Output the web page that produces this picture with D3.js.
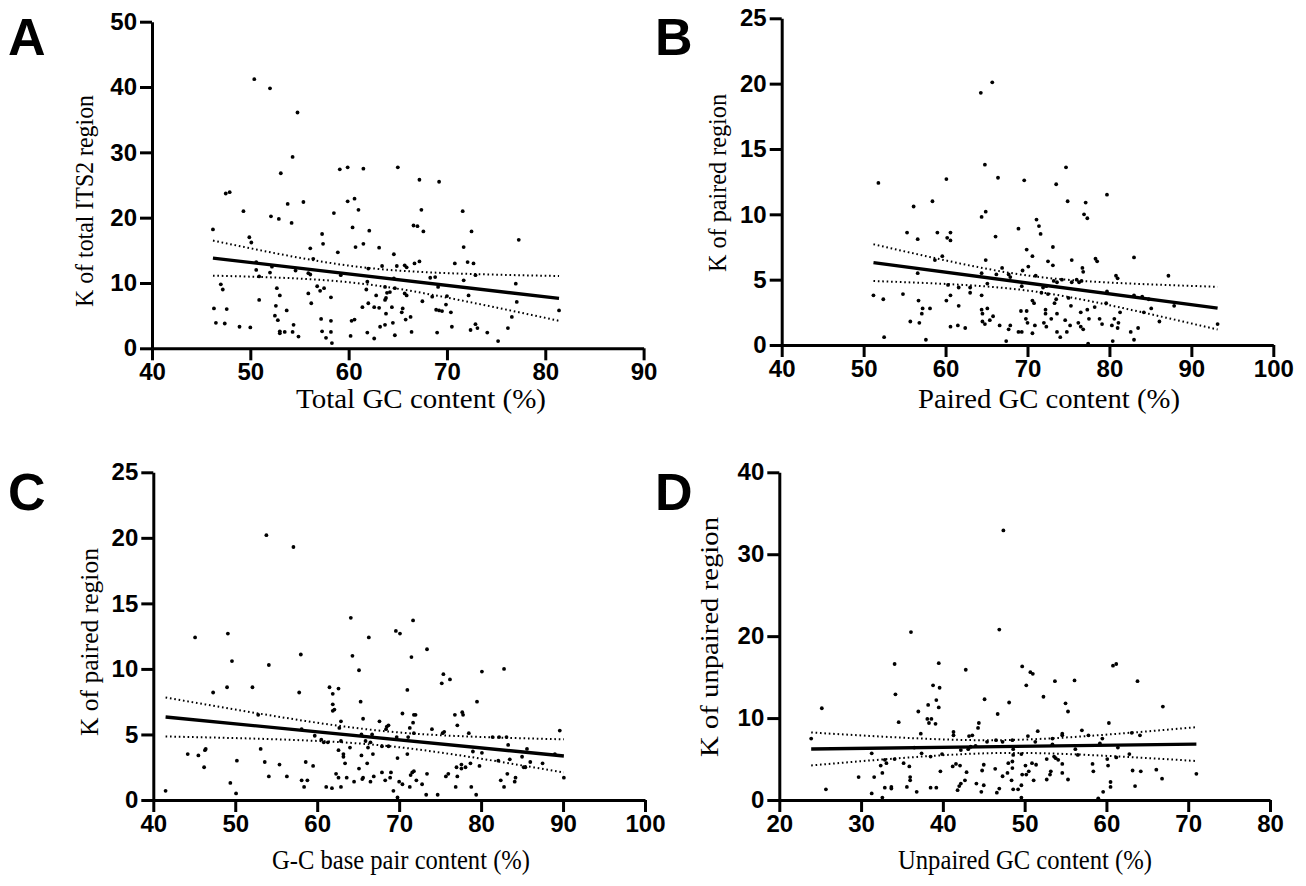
<!DOCTYPE html>
<meta charset="utf-8">
<style>
body { margin: 0; background: #fff; }
.axis path, .axis line { stroke: #000; stroke-width: 3; }
.axis text { font: bold 24px "Liberation Sans", Arial, sans-serif; fill: #000; }
.title { font-family: "Liberation Serif", "Times New Roman", serif; font-size: 27px; fill: #000; }
.letter { font: bold 52px "Liberation Sans", Arial, sans-serif; fill: #000; }
.fit { fill: none; stroke: #000; stroke-width: 3.4; }
.ci { fill: none; stroke: #000; stroke-width: 2; stroke-dasharray: 1.6 2.8; }
</style>
<svg width="1306" height="886"></svg>
<script src="https://d3js.org/d3.v7.min.js"></script>
<script>

// A: total GC content (%) vs K of total ITS2 region
var pointsA = [
  [50.4,41.2],[52.0,39.8],[54.8,36.1],[54.3,29.3],[53.1,26.8],[59.1,27.4],[59.9,27.7],[61.5,27.5],[65.0,27.7],
  [47.5,23.7],[47.9,23.9],[46.2,18.2],[49.3,21.0],[52.1,20.2],[52.9,19.8],[53.8,22.1],[54.2,19.2],[55.4,22.4],
  [58.5,20.7],[59.9,22.5],[60.6,22.9],[61.0,21.2],[60.4,18.5],[62.1,18.0],[49.9,17.0],[50.1,16.2],[57.3,17.5],
  [57.4,16.0],[56.1,15.3],[58.9,14.7],[60.7,15.5],[61.5,16.0],[63.1,15.4],[64.6,14.4],[56.4,13.7],[50.6,13.2],
  [50.6,12.0],[50.9,11.0],[52.0,11.6],[52.2,12.5],[54.6,11.9],[55.9,11.5],[56.1,11.3],[59.2,11.2],[62.0,12.2],
  [63.4,12.6],[64.9,12.6],[61.9,10.2],[47.0,9.8],[47.2,9.0],[52.7,9.2],[53.0,8.1],[50.9,7.4],[55.9,8.4],
  [56.8,9.5],[57.1,8.8],[57.5,9.2],[58.2,7.8],[61.8,9.0],[62.8,8.1],[63.7,9.4],[63.9,8.5],[64.2,8.6],
  [63.8,7.7],[63.7,7.4],[64.6,10.7],[56.2,6.9],[61.4,6.3],[62.0,6.9],[62.6,6.3],[63.1,6.2],[64.4,6.3],
  [46.3,6.1],[47.6,6.0],[52.6,6.5],[53.7,5.8],[52.5,5.0],[52.8,4.3],[46.5,3.9],[47.4,3.8],[48.9,3.3],
  [50.0,3.2],[54.4,3.6],[57.2,4.5],[58.2,4.2],[60.3,4.2],[60.6,4.4],[63.8,5.3],[64.5,3.9],[63.2,3.3],
  [63.7,3.6],[53.0,2.6],[53.0,2.3],[53.5,2.5],[54.3,2.5],[54.9,1.8],[57.3,2.6],[58.2,2.5],[57.7,1.6],
  [58.3,0.8],[60.2,1.9],[61.9,2.4],[62.6,1.5],[64.7,2.0],
  [67.2,25.8],[69.2,25.5],[67.4,21.2],[71.6,21.0],[66.6,18.8],[67.0,18.7],[67.6,17.9],[72.5,17.9],[77.3,16.6],
  [71.7,15.5],[67.2,13.3],[66.7,13.0],[65.7,12.7],[65.9,12.4],[70.8,13.0],[72.1,13.2],[72.7,13.0],[72.9,11.2],
  [68.3,10.8],[68.8,10.9],[64.7,9.2],[69.1,9.4],[71.7,10.4],[77.0,9.9],[65.7,8.4],[65.9,8.1],[68.5,7.9],
  [70.0,8.0],[72.2,8.1],[67.5,7.2],[77.1,7.1],[69.9,6.7],[65.5,6.1],[65.4,5.5],[68.9,5.9],[69.2,5.8],
  [69.5,5.7],[70.4,5.5],[81.4,5.8],[76.6,4.8],[66.3,4.8],[65.8,4.4],[72.9,3.7],[73.1,3.1],[70.5,3.3],
  [72.4,2.8],[76.2,3.1],[66.4,2.5],[69.0,2.4],[74.1,2.4],[75.2,1.1]
];

// B: paired GC content (%) vs K of paired region
var pointsB = [
  [65.7,20.1],[64.3,19.3],[64.8,13.8],[66.4,12.8],[69.6,12.6],[51.8,12.4],[60.1,12.7],[58.4,11.0],[56.1,10.6],
  [64.4,9.8],[64.9,10.2],[55.3,8.6],[56.6,8.1],[59.0,8.6],[60.2,8.2],[60.6,8.6],[60.6,8.0],[66.1,8.3],
  [68.9,8.9],[69.9,7.3],[58.7,6.5],[59.6,6.8],[64.9,6.5],[56.6,5.5],[64.4,5.5],[66.2,5.4],[66.9,5.9],
  [67.9,5.2],[67.7,5.4],[69.4,5.7],[70.1,6.0],[60.3,4.6],[61.6,4.4],[63.0,4.4],[63.0,4.0],[65.1,4.7],
  [69.3,4.5],[51.2,3.8],[52.4,3.5],[54.8,3.9],[56.7,3.4],[60.1,3.4],[60.6,3.8],[64.4,3.8],[61.6,3.0],
  [57.2,2.8],[58.1,2.8],[57.1,2.4],[64.4,2.7],[65.1,2.8],[64.5,2.4],[65.8,2.2],[65.4,1.9],[69.2,2.6],
  [69.9,2.6],[69.8,2.0],[70.0,1.7],[55.7,1.8],[56.8,1.7],[64.5,1.8],[64.8,1.6],[66.6,1.5],[67.7,1.2],
  [67.9,1.5],[68.9,1.0],[69.3,1.0],[60.6,1.4],[61.5,1.5],[62.4,1.3],[52.5,0.6],[57.6,0.4],[67.4,0.3],
  [74.7,13.6],[73.5,12.3],[79.7,11.5],[74.9,11.0],[77.1,10.9],[76.9,10.0],[77.3,9.7],[71.1,9.6],[71.4,9.1],
  [71.6,8.5],[73.1,7.5],[70.6,6.8],[72.5,6.4],[73.1,6.1],[75.4,6.5],[78.3,6.6],[78.5,6.4],[83.0,6.7],
  [76.7,5.9],[76.8,5.6],[71.0,5.3],[80.8,5.3],[81.0,5.1],[87.2,5.3],[73.2,4.9],[73.6,4.8],[74.2,5.0],
  [75.4,4.8],[76.0,5.0],[76.3,4.8],[76.6,4.9],[71.9,4.4],[72.3,4.5],[79.7,4.1],[71.7,4.0],[72.5,3.9],
  [83.0,3.8],[84.0,3.7],[84.8,3.5],[75.0,3.6],[73.5,3.5],[73.3,3.2],[70.6,3.4],[70.8,3.2],[75.3,3.0],
  [79.6,3.2],[87.9,3.0],[77.3,2.7],[78.2,2.9],[81.3,2.5],[84.2,2.5],[85.1,2.8],[72.2,2.7],[72.2,2.4],
  [73.6,2.4],[76.5,2.5],[70.9,1.5],[72.0,1.7],[72.3,1.4],[72.9,2.0],[74.6,1.9],[75.2,1.5],[76.2,1.7],
  [76.5,1.4],[76.8,1.2],[77.5,2.0],[78.8,2.0],[79.1,1.6],[80.3,1.5],[80.6,2.0],[81.1,1.7],[81.0,1.3],
  [83.5,1.3],[86.1,1.8],[93.2,1.6],[70.6,0.9],[73.6,1.0],[74.0,0.6],[74.8,1.0],[82.6,1.0],[83.0,0.4],
  [77.4,0.1],[80.4,0.3]
];

// C: G-C base pair content (%) vs K of paired region
var pointsC = [
  [53.8,20.2],[57.1,19.3],[64.1,13.9],[49.1,12.7],[45.1,12.4],[66.3,12.4],[69.6,12.9],[70.1,12.7],[58.0,11.1],
  [64.3,11.0],[49.6,10.6],[54.1,10.3],[65.1,9.9],[47.3,8.2],[49.0,8.6],[52.1,8.6],[57.8,8.2],[61.5,8.6],
  [62.6,8.5],[61.9,8.1],[61.9,7.3],[61.9,6.8],[62.1,6.9],[65.3,7.5],[52.8,6.5],[65.6,6.2],[58.1,5.4],
  [62.9,6.0],[62.7,5.5],[67.6,6.0],[68.5,5.6],[68.7,5.7],[68.4,5.4],[59.7,4.9],[60.5,4.6],[60.8,4.4],
  [61.3,4.4],[62.9,4.5],[65.4,5.0],[66.7,5.0],[65.9,4.5],[66.5,4.4],[66.2,4.0],[64.0,4.0],[67.9,4.1],
  [68.7,4.1],[69.7,4.8],[44.2,3.5],[45.5,3.4],[46.3,3.8],[46.4,3.9],[46.2,2.5],[50.2,3.0],[53.1,3.9],
  [53.6,2.9],[55.4,2.7],[58.6,2.9],[59.5,2.6],[62.6,3.8],[63.2,3.5],[63.2,3.3],[63.4,2.8],[65.4,3.4],
  [66.1,2.8],[66.8,3.5],[65.1,2.4],[69.8,3.2],[54.1,1.8],[56.3,1.8],[58.1,1.5],[58.8,1.5],[58.4,1.0],
  [62.3,2.0],[62.6,1.7],[63.6,1.7],[64.5,1.4],[65.5,1.6],[65.6,1.7],[66.5,1.4],[66.9,1.8],[67.9,2.1],
  [68.3,1.5],[68.9,1.7],[69.0,2.1],[70.0,1.4],[61.1,1.0],[61.8,0.9],[62.9,1.0],[49.4,1.3],[50.1,0.5],
  [41.5,0.7],[69.3,0.7],[69.8,0.2],
  [71.7,13.7],[73.4,11.5],[71.5,10.9],[82.8,10.0],[80.1,9.8],[75.4,9.6],[75.2,8.9],[76.2,9.2],[71.0,8.4],
  [79.5,7.5],[70.4,6.6],[71.8,6.5],[72.0,6.5],[76.8,6.5],[77.7,6.7],[77.8,6.5],[71.7,5.9],[77.1,5.7],
  [71.3,5.5],[74.0,5.4],[75.3,5.1],[75.5,5.2],[71.8,5.1],[78.5,5.1],[81.4,4.8],[82.2,4.8],[83.1,4.8],
  [89.6,5.3],[71.1,4.8],[83.3,4.2],[79.0,3.7],[80.1,3.6],[85.6,3.9],[89.0,3.5],[71.0,3.5],[83.5,3.1],
  [82.1,3.0],[85.0,3.3],[86.0,2.9],[87.5,2.8],[78.7,2.8],[79.8,2.6],[77.0,2.5],[77.6,2.7],[77.6,2.4],
  [78.1,2.5],[85.2,2.5],[85.4,2.5],[71.6,2.1],[71.8,2.2],[71.4,1.9],[73.4,2.0],[76.0,2.0],[75.7,1.8],
  [77.1,1.8],[70.4,1.2],[72.1,1.5],[72.8,1.2],[82.4,1.5],[83.2,2.0],[84.2,1.7],[84.1,1.4],[90.1,1.7],
  [71.3,1.0],[76.9,1.0],[78.8,1.0],[82.8,1.0],[73.3,0.4],[74.7,0.4],[79.4,0.4]
];

// D: unpaired GC content (%) vs K of unpaired region
var pointsD = [
  [47.4,32.9],[46.9,20.8],[36.1,20.5],[34.1,16.6],[39.5,16.7],[42.8,15.9],[49.7,16.3],[34.2,12.9],[38.8,14.0],
  [39.6,13.7],[50.2,14.0],[45.1,12.3],[48.1,11.9],[25.2,11.2],[37.0,10.8],[38.2,11.6],[39.2,12.2],[39.5,11.3],
  [46.7,10.5],[34.6,9.5],[38.1,9.9],[38.6,9.9],[38.3,9.4],[39.1,9.3],[37.3,8.1],[41.3,8.3],[41.3,7.9],
  [43.2,7.8],[43.6,7.9],[44.4,9.4],[44.3,8.8],[45.4,7.1],[46.5,7.3],[47.3,7.1],[48.5,7.3],[50.4,7.8],
  [23.9,7.5],[36.5,6.4],[37.4,5.7],[38.5,5.3],[39.9,5.6],[42.2,6.1],[43.1,6.2],[43.4,6.5],[44.0,6.6],
  [48.6,6.2],[48.6,5.5],[49.6,5.6],[31.3,5.7],[32.9,4.9],[34.1,5.0],[35.2,4.5],[32.4,4.2],[32.6,3.3],
  [33.1,4.5],[35.9,4.1],[39.7,3.5],[41.2,4.1],[41.6,4.4],[42.1,4.2],[42.9,3.4],[44.8,3.6],[45.0,4.3],
  [46.4,3.8],[47.3,2.9],[47.9,3.3],[48.0,4.5],[48.5,4.7],[48.5,3.9],[48.4,2.4],[48.6,1.3],[49.7,3.1],
  [50.1,4.2],[49.6,1.8],[29.7,2.8],[31.6,2.8],[36.0,2.4],[36.0,2.8],[25.7,1.3],[31.3,0.8],[32.6,0.3],
  [32.9,1.5],[33.7,1.6],[33.7,1.4],[35.6,1.6],[36.8,1.0],[38.5,1.5],[39.2,1.5],[41.8,1.2],[42.0,1.7],
  [42.2,2.0],[42.7,2.4],[44.1,2.0],[44.7,1.0],[45.0,1.8],[46.6,0.9],[46.9,1.4],[49.2,1.3],[49.6,0.3],
  [60.8,16.4],[61.2,16.6],[50.7,15.6],[51.0,15.4],[53.7,14.5],[56.1,14.6],[63.8,14.5],[52.3,12.6],[55.0,11.8],
  [55.3,10.8],[66.9,11.4],[60.3,9.4],[51.6,8.4],[51.3,7.1],[54.6,8.1],[54.6,7.9],[57.0,8.5],[57.8,7.9],
  [59.5,7.5],[63.1,8.2],[64.1,7.9],[53.4,7.5],[53.4,6.8],[59.2,6.9],[56.2,6.2],[61.4,6.4],[56.5,5.5],
  [61.2,5.2],[60.1,5.0],[62.8,5.6],[52.7,5.0],[53.6,5.3],[53.8,5.1],[54.1,4.9],[50.9,4.5],[51.4,4.3],
  [54.6,4.4],[58.3,4.4],[60.2,4.2],[58.4,3.5],[63.2,3.6],[64.2,3.5],[66.1,3.7],[53.2,3.5],[53.1,3.1],
  [54.6,3.3],[71.0,3.2],[50.2,3.1],[50.5,3.5],[51.1,2.4],[52.7,2.5],[55.3,2.5],[66.8,2.6],[60.5,2.2],
  [60.5,1.6],[63.5,1.7],[59.6,1.0],[59.0,0.2]
];

var xTicksA = [40, 50, 60, 70, 80, 90],  yTicksA = [0, 10, 20, 30, 40, 50];
var xTicksB = [40, 50, 60, 70, 80, 90, 100], yTicksB = [0, 5, 10, 15, 20, 25];
var xTicksC = [40, 50, 60, 70, 80, 90, 100], yTicksC = [0, 5, 10, 15, 20, 25];
var xTicksD = [20, 30, 40, 50, 60, 70, 80], yTicksD = [0, 10, 20, 30, 40];

var letters = ["A", "B", "C", "D"];
var xTitles = ["Total GC content (%)", "Paired GC content (%)", "G-C base pair content (%)", "Unpaired GC content (%)"];
var yTitles = ["K of total ITS2 region", "K of paired region", "K of paired region", "K of unpaired region"];

var svg = d3.select("svg");

// linear fit with 95% confidence band
function fit(pts) {
  var n = pts.length,
      mx = d3.mean(pts, function(d) { return d[0]; }),
      my = d3.mean(pts, function(d) { return d[1]; }),
      sxx = d3.sum(pts, function(d) { return (d[0] - mx) * (d[0] - mx); }),
      sxy = d3.sum(pts, function(d) { return (d[0] - mx) * (d[1] - my); }),
      b = sxy / sxx, a = my - b * mx,
      sse = d3.sum(pts, function(d) { var r = d[1] - (a + b * d[0]); return r * r; }),
      s = Math.sqrt(sse / (n - 2)),
      t = 1.974;
  return {
    y: function(x) { return a + b * x; },
    se: function(x) { return t * s * Math.sqrt(1 / n + (x - mx) * (x - mx) / sxx); },
    ext: d3.extent(pts, function(d) { return d[0]; })
  };
}

function panel(o) {
  var g = svg.append("g").attr("transform", "translate(" + o.left + "," + o.top + ")");
  var x = d3.scaleLinear().domain(d3.extent(o.xt)).range([0, o.w]);
  var y = d3.scaleLinear().domain(d3.extent(o.yt)).range([o.h, 0]);

  var f = fit(o.pts);
  var xs = d3.range(0, 41).map(function(i) { return f.ext[0] + (f.ext[1] - f.ext[0]) * i / 40; });
  var line = d3.line().x(function(d) { return x(d[0]); }).y(function(d) { return y(d[1]); });

  g.append("path").attr("class", "ci")
    .attr("d", line(xs.map(function(v) { return [v, f.y(v) + f.se(v)]; })));
  g.append("path").attr("class", "ci")
    .attr("d", line(xs.map(function(v) { return [v, f.y(v) - f.se(v)]; })));

  g.selectAll("circle").data(o.pts).enter().append("circle")
    .attr("cx", function(d) { return x(d[0]); })
    .attr("cy", function(d) { return y(d[1]); })
    .attr("r", 1.9);

  g.append("path").attr("class", "fit")
    .attr("d", line([[f.ext[0], f.y(f.ext[0])], [f.ext[1], f.y(f.ext[1])]]));

  g.append("g").attr("class", "axis")
    .attr("transform", "translate(0," + o.h + ")")
    .call(d3.axisBottom(x).tickValues(o.xt).tickSize(12).tickSizeOuter(0).tickPadding(3));
  g.append("g").attr("class", "axis")
    .call(d3.axisLeft(y).tickValues(o.yt).tickSize(12).tickSizeOuter(0).tickPadding(3));

  g.append("text").attr("class", "title")
    .attr("x", o.xtc - o.left).attr("y", o.xty - o.top)
    .attr("text-anchor", "middle")
    .attr("textLength", o.xtl).attr("lengthAdjust", "spacingAndGlyphs")
    .text(o.xtitle);

  g.append("text").attr("class", "title")
    .style("font-size", "26px")
    .attr("transform", "translate(" + (o.ytx - o.left) + "," + (o.ytc - o.top) + ") rotate(-90)")
    .attr("text-anchor", "middle")
    .attr("textLength", o.ytl).attr("lengthAdjust", "spacingAndGlyphs")
    .text(o.ytitle);

  svg.append("text").attr("class", "letter")
    .attr("x", o.lx).attr("y", o.ly).text(o.letter);
}

panel({ pts: pointsA, xt: xTicksA, yt: yTicksA, left: 152, top: 21.7, w: 491.6, h: 326.6,
        xtitle: xTitles[0], xtc: 421, xty: 408, xtl: 250,
        ytitle: yTitles[0], ytx: 93, ytc: 201, ytl: 212,
        letter: letters[0], lx: 8, ly: 55 });
panel({ pts: pointsB, xt: xTicksB, yt: yTicksB, left: 781.7, top: 18.3, w: 491.6, h: 326.7,
        xtitle: xTitles[1], xtc: 1049, xty: 408, xtl: 262,
        ytitle: yTitles[1], ytx: 726, ytc: 183, ytl: 178,
        letter: letters[1], lx: 655, ly: 55 });
panel({ pts: pointsC, xt: xTicksC, yt: yTicksC, left: 153.3, top: 472.3, w: 491.7, h: 327.7,
        xtitle: xTitles[2], xtc: 401, xty: 869, xtl: 258,
        ytitle: yTitles[2], ytx: 98, ytc: 642, ytl: 188,
        letter: letters[2], lx: 8, ly: 510 });
panel({ pts: pointsD, xt: xTicksD, yt: yTicksD, left: 779.3, top: 472.3, w: 490.7, h: 327.7,
        xtitle: xTitles[3], xtc: 1025, xty: 869, xtl: 254,
        ytitle: yTitles[3], ytx: 718, ytc: 637, ytl: 240,
        letter: letters[3], lx: 655, ly: 510 });

</script>
